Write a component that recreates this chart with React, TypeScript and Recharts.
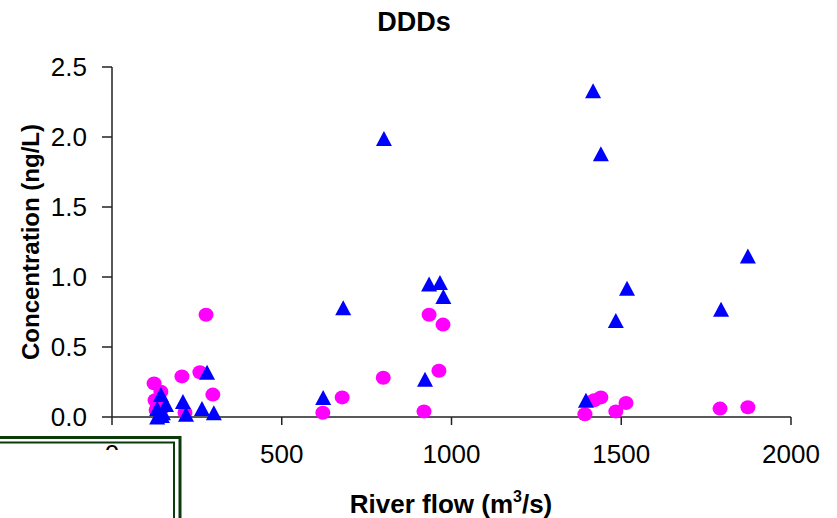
import React from 'react';
import { ScatterChart, Scatter, XAxis, YAxis } from 'recharts';

// River flow (m3/s) and DDDs concentration (ng/L)
const triangleFlow = [1417, 1440, 1873, 1517, 1794, 1484, 1396, 801, 681, 934, 966, 976, 922, 622, 280, 144, 209, 159, 265, 218, 300, 133, 133, 147, 150];
const triangleConc = [2.33, 1.88, 1.15, 0.92, 0.77, 0.69, 0.12, 1.99, 0.78, 0.95, 0.96, 0.86, 0.27, 0.14, 0.32, 0.16, 0.11, 0.09, 0.06, 0.02, 0.03, 0.06, 0.0, 0.01, 0.03];

const circleFlow = [1420, 1440, 1393, 1484, 1514, 1791, 1873, 934, 975, 799, 963, 678, 621, 919, 277, 259, 206, 124, 144, 297, 127, 215, 150, 130];
const circleConc = [0.12, 0.14, 0.02, 0.04, 0.1, 0.06, 0.07, 0.73, 0.66, 0.28, 0.33, 0.14, 0.03, 0.04, 0.73, 0.32, 0.29, 0.24, 0.18, 0.16, 0.12, 0.03, 0.07, 0.05];

const xTicks = [0, 500, 1000, 1500, 2000];
const yTicks = [0, 0.5, 1.0, 1.5, 2.0, 2.5];

const toPoints = (flow: number[], conc: number[]) =>
  flow.map((f, i) => ({ flow: f, conc: conc[i] }));

const FONT = '"Liberation Sans", Arial, sans-serif';

// magenta dots
const Dot = (props: any) => (
  <ellipse cx={props.cx} cy={props.cy} rx={7.5} ry={7} fill="#FF00FF" />
);

// blue triangles
const Tri = (props: any) => {
  const { cx, cy } = props;
  return (
    <polygon
      points={`${cx - 8},${cy + 7.5} ${cx + 8},${cy + 7.5} ${cx},${cy - 7.5}`}
      fill="#0000FF"
    />
  );
};

export default function App() {
  const circles = toPoints(circleFlow, circleConc);
  const triangles = toPoints(triangleFlow, triangleConc);

  return (
    <div style={{ position: 'relative', width: 837, height: 518, fontFamily: FONT, background: '#fff' }}>
      <style>{'body{margin:0}'}</style>
      <ScatterChart width={837} height={518} margin={{ top: 67, right: 46, bottom: 71, left: 0 }}>
        <XAxis
          type="number"
          dataKey="flow"
          domain={[0, 2000]}
          ticks={xTicks}
          height={30}
          tickSize={8}
          tickMargin={20}
          axisLine={{ stroke: '#222', strokeWidth: 1.5 }}
          tickLine={{ stroke: '#222', strokeWidth: 1.5 }}
          tick={{ fill: '#000', fontSize: 26, fontFamily: FONT }}
        />
        <YAxis
          type="number"
          dataKey="conc"
          domain={[0, 2.5]}
          ticks={yTicks}
          width={112}
          tickSize={10}
          tickMargin={15}
          tickFormatter={(v: number) => v.toFixed(1)}
          axisLine={{ stroke: '#222', strokeWidth: 1.5 }}
          tickLine={{ stroke: '#222', strokeWidth: 1.5 }}
          tick={{ fill: '#000', fontSize: 26, fontFamily: FONT }}
        />
        <Scatter data={circles} shape={Dot} isAnimationActive={false} />
        <Scatter data={triangles} shape={Tri} isAnimationActive={false} />
      </ScatterChart>

      <svg
        width={837}
        height={518}
        style={{ position: 'absolute', left: 0, top: 0, pointerEvents: 'none' }}
      >
        <text x={414} y={31} textAnchor="middle" fontSize={27} fontWeight="bold" fontFamily={FONT}>
          DDDs
        </text>
        <text
          x={30}
          y={242}
          textAnchor="middle"
          dominantBaseline="central"
          fontSize={24}
          fontWeight="bold"
          fontFamily={FONT}
          transform="rotate(-90 30 242)"
        >
          Concentration (ng/L)
        </text>
        <text x={451} y={513} textAnchor="middle" fontSize={26} fontWeight="bold" fontFamily={FONT}>
          River flow (m<tspan fontSize={16} dy={-11}>3</tspan>
          <tspan dy={11}>/s)</tspan>
        </text>

        {/* empty legend frame in the bottom-left corner */}
        <rect x={-10} y={450} width={183} height={80} fill="#fff" />
        <rect x={-10} y={437.5} width={190} height={100} fill="none" stroke="#0b3a0b" strokeWidth={3} />
        <rect x={-10} y={442.5} width={184} height={100} fill="none" stroke="#0b3a0b" strokeWidth={2} />
      </svg>
    </div>
  );
}
